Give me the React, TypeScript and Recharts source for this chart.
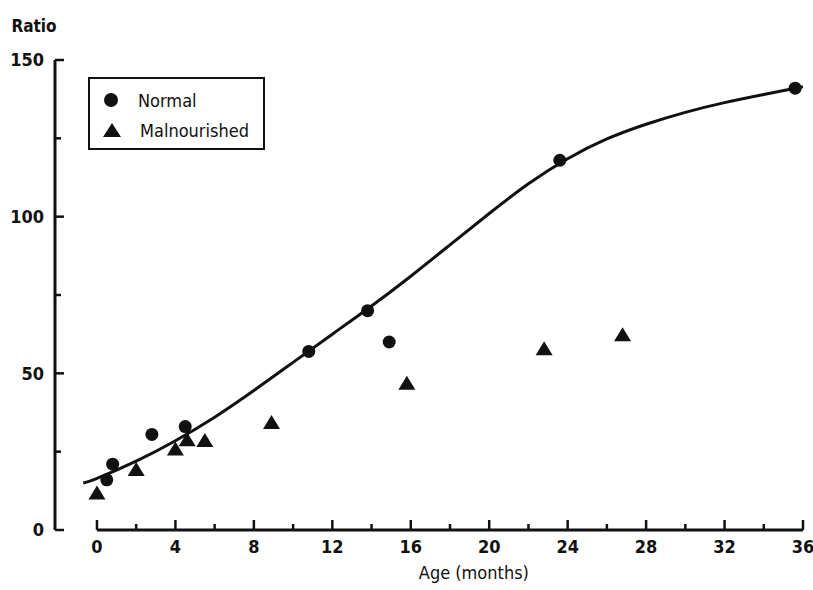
import { ComposedChart, Line, Scatter, XAxis, YAxis, ReferenceLine, Legend } from 'recharts';

const normalAge = [0.5, 0.8, 2.8, 4.5, 10.8, 13.8, 14.9, 23.6, 35.6];
const normalRatio = [16, 21, 30.5, 33, 57, 70, 60, 118, 141];

const malAge = [0, 2, 4, 4.6, 5.5, 8.9, 15.8, 22.8, 26.8];
const malRatio = [12, 19.5, 26, 29, 28.7, 34.5, 47, 58, 62.5];

// fitted curve through the normal group
const fitAge = [-0.7, 0, 2, 4, 6, 8, 10, 12, 14, 16, 18, 20, 22, 24, 26, 28, 30, 32, 34, 36];
const fitRatio = [15, 16.5, 22, 28.5, 36, 44.5, 53.5, 62.5, 71.5, 81, 91, 101, 110.5, 118.5, 124.8, 129.5, 133.3, 136.4, 139, 141.5];

const xTicks = [0, 2, 4, 6, 8, 10, 12, 14, 16, 18, 20, 22, 24, 26, 28, 30, 32, 34, 36];
const yTicks = [0, 25, 50, 75, 100, 125, 150];

const INK = '#111';
const FONT = "'DejaVu Sans Condensed', 'DejaVu Sans', sans-serif";

const normalPts = normalAge.map((x, i) => ({ x, y: normalRatio[i] }));
const malPts = malAge.map((x, i) => ({ x, y: malRatio[i] }));
const fitPts = fitAge.map((x, i) => ({ x, y: fitRatio[i] }));

const Dot = (p: any) => <circle cx={p.cx} cy={p.cy} r={6.5} fill={INK} />;

const Tri = (p: any) => (
  <path d={`M${p.cx},${p.cy - 7}L${p.cx + 8.5},${p.cy + 7}L${p.cx - 8.5},${p.cy + 7}Z`} fill={INK} />
);

const XTick = ({ x, y, payload }: any) => {
  const major = payload.value % 4 === 0;
  return (
    <g>
      <line x1={x} x2={x} y1={y} y2={y - (major ? 10 : 6)} stroke={INK} strokeWidth={2.5} />
      {major && (
        <text x={x} y={y + 23} textAnchor="middle" fontFamily={FONT} fontStretch="condensed" fontWeight="bold" fontSize={18} fill={INK}>
          {payload.value}
        </text>
      )}
    </g>
  );
};

const YTick = ({ x, y, payload }: any) => {
  const major = payload.value % 50 === 0;
  return (
    <g>
      <line x1={x} x2={x + (major ? 9 : 6)} y1={y} y2={y} stroke={INK} strokeWidth={2.5} />
      {major && (
        <text x={x - 11} y={y} dy="0.35em" textAnchor="end" fontFamily={FONT} fontStretch="condensed" fontWeight="bold" fontSize={18} fill={INK}>
          {payload.value}
        </text>
      )}
    </g>
  );
};

const RatioLabel = ({ viewBox }: any) => (
  <text x={viewBox.x + viewBox.width / 2 - 1} y={viewBox.y - 28} textAnchor="middle" fontFamily={FONT} fontStretch="condensed" fontWeight="bold" fontSize={17} fill={INK}>
    Ratio
  </text>
);

const AgeLabel = ({ viewBox }: any) => (
  <text x={viewBox.x + viewBox.width * 0.56} y={viewBox.y + 49} textAnchor="middle" fontFamily={FONT} fontStretch="condensed" fontSize={18} fill={INK}>
    Age  (months)
  </text>
);

const LegendBox = () => (
  <div
    style={{
      boxSizing: 'border-box',
      width: 177,
      height: 73,
      border: `2px solid ${INK}`,
      background: '#fff',
      fontFamily: FONT,
      fontStretch: 'condensed',
      fontSize: 18,
      color: INK,
      padding: '6px 0 0 12px',
    }}
  >
    <div style={{ display: 'flex', alignItems: 'center', height: 30 }}>
      <svg width={22} height={18}>
        <circle cx={9} cy={9} r={7} fill={INK} />
      </svg>
      <span style={{ marginLeft: 14 }}>Normal</span>
    </div>
    <div style={{ display: 'flex', alignItems: 'center', height: 30 }}>
      <svg width={22} height={18}>
        <path d="M10,2L19,16L1,16Z" fill={INK} />
      </svg>
      <span style={{ marginLeft: 16 }}>Malnourished</span>
    </div>
  </div>
);

export default function App() {
  return (
    <div style={{ position: 'absolute', left: 0, top: 0, background: '#fff' }}>
      <ComposedChart width={813} height={590} margin={{ top: 60, right: 10, bottom: 0, left: 15 }}>
        <XAxis
          type="number"
          dataKey="x"
          domain={[-2.14, 36]}
          ticks={xTicks}
          allowDataOverflow
          axisLine={false}
          tickLine={false}
          tickSize={0}
          tickMargin={0}
          tick={<XTick />}
          height={60}
          label={{ content: <AgeLabel /> }}
        />
        <YAxis
          type="number"
          dataKey="y"
          domain={[0, 150]}
          ticks={yTicks}
          width={40}
          axisLine={{ stroke: INK, strokeWidth: 3 }}
          tickLine={false}
          tickSize={0}
          tickMargin={0}
          tick={<YTick />}
          label={{ content: <RatioLabel /> }}
        />
        <ReferenceLine segment={[{ x: 0, y: 0 }, { x: 36, y: 0 }]} stroke={INK} strokeWidth={3} />
        <Legend
          layout="vertical"
          align="center"
          verticalAlign="middle"
          content={<LegendBox />}
          wrapperStyle={{ left: 88, top: 77, width: 177, height: 73 }}
        />
        <Line
          data={fitPts}
          dataKey="y"
          type="natural"
          stroke={INK}
          strokeWidth={3}
          dot={false}
          activeDot={false}
          isAnimationActive={false}
        />
        <Scatter data={normalPts} shape={<Dot />} isAnimationActive={false} />
        <Scatter data={malPts} shape={<Tri />} isAnimationActive={false} />
      </ComposedChart>
    </div>
  );
}
